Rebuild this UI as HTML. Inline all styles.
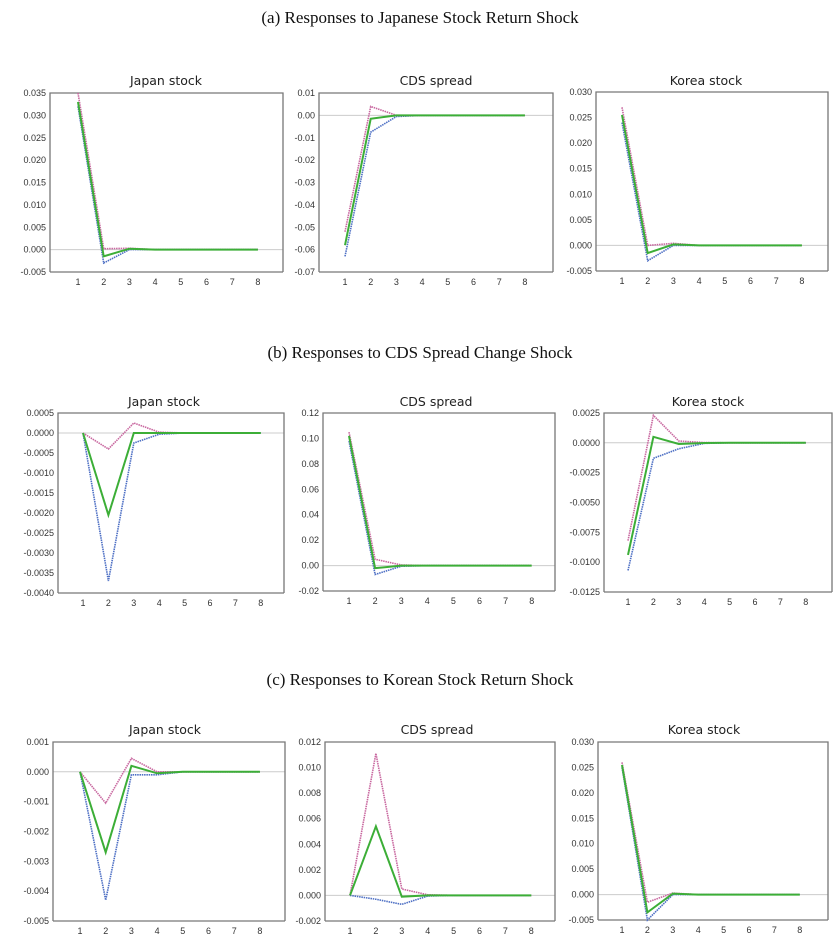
<!DOCTYPE html>
<html><head><meta charset="utf-8"><style>
html,body{margin:0;padding:0;background:#fff;}
svg{display:block;}
.h{font-family:"Liberation Serif",serif;font-size:17px;fill:#111;}
.t{font-family:"DejaVu Sans","Liberation Sans",sans-serif;font-size:12.5px;fill:#222;}
.yl{font-family:"Liberation Sans",sans-serif;font-size:9px;fill:#333;text-anchor:end;}
.xl{font-family:"Liberation Sans",sans-serif;font-size:9px;fill:#333;text-anchor:middle;}
.box{fill:none;stroke:#777;stroke-width:1.3;}
.z{stroke:#ccc;stroke-width:1;}
.p{fill:none;stroke:#c8679f;stroke-width:1.6;stroke-dasharray:1.5 0.8;vector-effect:non-scaling-stroke;}
.b{fill:none;stroke:#4d6fc4;stroke-width:1.6;stroke-dasharray:1.5 0.8;vector-effect:non-scaling-stroke;}
.g{fill:none;stroke:#3cae37;stroke-width:2;vector-effect:non-scaling-stroke;}
</style></head><body>
<svg width="838" height="944" viewBox="0 0 838 944" xmlns="http://www.w3.org/2000/svg">
<text class="h" x="420" y="23" text-anchor="middle">(a) Responses to Japanese Stock Return Shock</text>
<text class="h" x="420" y="358" text-anchor="middle">(b) Responses to CDS Spread Change Shock</text>
<text class="h" x="420" y="685" text-anchor="middle">(c) Responses to Korean Stock Return Shock</text>

<!-- a1 -->
<g transform="translate(50,93)">
<text class="t" x="116" y="-8" text-anchor="middle">Japan stock</text>
<line class="z" x1="0" x2="233" y1="156.6" y2="156.6"/>
<path class="box" d="M0,179V0H233V179M0,179H233"/>
<g class="yl"><text x="-4" y="3">0.035</text><text x="-4" y="25.4">0.030</text><text x="-4" y="47.8">0.025</text><text x="-4" y="70.1">0.020</text><text x="-4" y="92.5">0.015</text><text x="-4" y="114.9">0.010</text><text x="-4" y="137.3">0.005</text><text x="-4" y="159.6">0.000</text><text x="-4" y="182">-0.005</text></g>
<g transform="translate(28,192)" class="xl"><text x="0">1</text><text x="25.7">2</text><text x="51.4">3</text><text x="77.1">4</text><text x="102.8">5</text><text x="128.5">6</text><text x="154.2">7</text><text x="179.9">8</text></g>
<g transform="translate(28,156.6) scale(25.7,-4.475)">
<polyline class="b" points="0,32 1,-3 2,0 3,0 7,0"/><polyline class="p" points="0,35 1,0.2 2,0.3 3,0 7,0"/><polyline class="g" points="0,33 1,-1.5 2,0.2 3,0 7,0"/></g>
</g>

<!-- a2 -->
<g transform="translate(319,93)">
<text class="t" x="117" y="-8" text-anchor="middle">CDS spread</text>
<line class="z" x1="0" x2="234" y1="22.4" y2="22.4"/>
<path class="box" d="M0,179V0H234V179M0,179H234"/>
<g class="yl"><text x="-4" y="3">0.01</text><text x="-4" y="25.4">0.00</text><text x="-4" y="47.8">-0.01</text><text x="-4" y="70.1">-0.02</text><text x="-4" y="92.5">-0.03</text><text x="-4" y="114.9">-0.04</text><text x="-4" y="137.3">-0.05</text><text x="-4" y="159.6">-0.06</text><text x="-4" y="182">-0.07</text></g>
<g transform="translate(26,192)" class="xl"><text x="0">1</text><text x="25.7">2</text><text x="51.4">3</text><text x="77.1">4</text><text x="102.8">5</text><text x="128.5">6</text><text x="154.2">7</text><text x="179.9">8</text></g>
<g transform="translate(26,22.4) scale(25.7,-22.375)">
<polyline class="b" points="0,-6.3 1,-0.75 2,-0.05 3,0 7,0"/><polyline class="p" points="0,-5.2 1,0.4 2,0 3,0 7,0"/><polyline class="g" points="0,-5.8 1,-0.15 2,0 3,0 7,0"/></g>
</g>

<!-- a3 -->
<g transform="translate(596,92)">
<text class="t" x="110" y="-7" text-anchor="middle">Korea stock</text>
<line class="z" x1="0" x2="232" y1="153.4" y2="153.4"/>
<path class="box" d="M0,179V0H232V179M0,179H232"/>
<g class="yl"><text x="-4" y="3">0.030</text><text x="-4" y="28.6">0.025</text><text x="-4" y="54.1">0.020</text><text x="-4" y="79.7">0.015</text><text x="-4" y="105.3">0.010</text><text x="-4" y="130.9">0.005</text><text x="-4" y="156.4">0.000</text><text x="-4" y="182">-0.005</text></g>
<g transform="translate(26,192)" class="xl"><text x="0">1</text><text x="25.7">2</text><text x="51.4">3</text><text x="77.1">4</text><text x="102.8">5</text><text x="128.5">6</text><text x="154.2">7</text><text x="179.9">8</text></g>
<g transform="translate(26,153.4) scale(25.7,-5.114)">
<polyline class="b" points="0,24 1,-3 2,0 3,0 7,0"/><polyline class="p" points="0,27 1,0 2,0.4 3,0 7,0"/><polyline class="g" points="0,25.5 1,-1.5 2,0.2 3,0 7,0"/></g>
</g>

<!-- b1 -->
<g transform="translate(58,413)">
<text class="t" x="106" y="-7" text-anchor="middle">Japan stock</text>
<line class="z" x1="0" x2="226" y1="20" y2="20"/>
<path class="box" d="M0,180V0H226V180M0,180H226"/>
<g class="yl"><text x="-4" y="3">0.0005</text><text x="-4" y="23">0.0000</text><text x="-4" y="43">-0.0005</text><text x="-4" y="63">-0.0010</text><text x="-4" y="83">-0.0015</text><text x="-4" y="103">-0.0020</text><text x="-4" y="123">-0.0025</text><text x="-4" y="143">-0.0030</text><text x="-4" y="163">-0.0035</text><text x="-4" y="183">-0.0040</text></g>
<g transform="translate(25,193)" class="xl"><text x="0">1</text><text x="25.4">2</text><text x="50.8">3</text><text x="76.2">4</text><text x="101.6">5</text><text x="127">6</text><text x="152.4">7</text><text x="177.8">8</text></g>
<g transform="translate(25,20) scale(25.4,-4)">
<polyline class="b" points="0,0 1,-37 2,-2.5 3,-0.3 4,0 7,0"/><polyline class="p" points="0,0 1,-4 2,2.5 3,0.2 4,0 7,0"/><polyline class="g" points="0,0 1,-20.5 2,0 3,0 7,0"/></g>
</g>

<!-- b2 -->
<g transform="translate(323,413)">
<text class="t" x="113" y="-7" text-anchor="middle">CDS spread</text>
<line class="z" x1="0" x2="232" y1="152.6" y2="152.6"/>
<path class="box" d="M0,178V0H232V178M0,178H232"/>
<g class="yl"><text x="-4" y="3">0.12</text><text x="-4" y="28.4">0.10</text><text x="-4" y="53.9">0.08</text><text x="-4" y="79.3">0.06</text><text x="-4" y="104.7">0.04</text><text x="-4" y="130.1">0.02</text><text x="-4" y="155.6">0.00</text><text x="-4" y="181">-0.02</text></g>
<g transform="translate(26,191)" class="xl"><text x="0">1</text><text x="26.1">2</text><text x="52.2">3</text><text x="78.3">4</text><text x="104.4">5</text><text x="130.5">6</text><text x="156.6">7</text><text x="182.7">8</text></g>
<g transform="translate(26,152.6) scale(26.1,-12.71)">
<polyline class="b" points="0,9.8 1,-0.7 2,-0.05 3,0 7,0"/><polyline class="p" points="0,10.5 1,0.5 2,0.05 3,0 7,0"/><polyline class="g" points="0,10.2 1,-0.2 2,0 3,0 7,0"/></g>
</g>

<!-- b3 -->
<g transform="translate(604,413)">
<text class="t" x="104" y="-7" text-anchor="middle">Korea stock</text>
<line class="z" x1="0" x2="228" y1="29.8" y2="29.8"/>
<path class="box" d="M0,179V0H228V179M0,179H228"/>
<g class="yl"><text x="-4" y="3">0.0025</text><text x="-4" y="32.8">0.0000</text><text x="-4" y="62.7">-0.0025</text><text x="-4" y="92.5">-0.0050</text><text x="-4" y="122.3">-0.0075</text><text x="-4" y="152.2">-0.0100</text><text x="-4" y="182">-0.0125</text></g>
<g transform="translate(24,192)" class="xl"><text x="0">1</text><text x="25.4">2</text><text x="50.8">3</text><text x="76.2">4</text><text x="101.6">5</text><text x="127">6</text><text x="152.4">7</text><text x="177.8">8</text></g>
<g transform="translate(24,29.8) scale(25.4,-1.193)">
<polyline class="b" points="0,-107 1,-13 2,-5 3,-0.5 4,0 7,0"/><polyline class="p" points="0,-82 1,23 2,1.5 3,0.2 4,0 7,0"/><polyline class="g" points="0,-94 1,5 2,-1 3,-0.2 4,0 7,0"/></g>
</g>

<!-- c1 -->
<g transform="translate(53,742)">
<text class="t" x="112" y="-8" text-anchor="middle">Japan stock</text>
<line class="z" x1="0" x2="232" y1="29.8" y2="29.8"/>
<path class="box" d="M0,179V0H232V179M0,179H232"/>
<g class="yl"><text x="-4" y="3">0.001</text><text x="-4" y="32.8">0.000</text><text x="-4" y="62.7">-0.001</text><text x="-4" y="92.5">-0.002</text><text x="-4" y="122.3">-0.003</text><text x="-4" y="152.2">-0.004</text><text x="-4" y="182">-0.005</text></g>
<g transform="translate(27,192)" class="xl"><text x="0">1</text><text x="25.7">2</text><text x="51.4">3</text><text x="77.1">4</text><text x="102.8">5</text><text x="128.5">6</text><text x="154.2">7</text><text x="179.9">8</text></g>
<g transform="translate(27,29.8) scale(25.7,-29.83)">
<polyline class="b" points="0,0 1,-4.3 2,-0.1 3,-0.1 4,0 7,0"/><polyline class="p" points="0,0 1,-1.05 2,0.45 3,0 7,0"/><polyline class="g" points="0,0 1,-2.7 2,0.2 3,-0.05 4,0 7,0"/></g>
</g>

<!-- c2 -->
<g transform="translate(325,742)">
<text class="t" x="112" y="-8" text-anchor="middle">CDS spread</text>
<line class="z" x1="0" x2="230" y1="153.4" y2="153.4"/>
<path class="box" d="M0,179V0H230V179M0,179H230"/>
<g class="yl"><text x="-4" y="3">0.012</text><text x="-4" y="28.6">0.010</text><text x="-4" y="54.1">0.008</text><text x="-4" y="79.7">0.006</text><text x="-4" y="105.3">0.004</text><text x="-4" y="130.9">0.002</text><text x="-4" y="156.4">0.000</text><text x="-4" y="182">-0.002</text></g>
<g transform="translate(25,192)" class="xl"><text x="0">1</text><text x="25.9">2</text><text x="51.8">3</text><text x="77.7">4</text><text x="103.6">5</text><text x="129.5">6</text><text x="155.4">7</text><text x="181.3">8</text></g>
<g transform="translate(25,153.4) scale(25.9,-12.79)">
<polyline class="b" points="0,0 1,-0.3 2,-0.7 3,-0.05 4,0 7,0"/><polyline class="p" points="0,0 1,11.1 2,0.5 3,0.05 4,0 7,0"/><polyline class="g" points="0,0 1,5.4 2,-0.1 3,0 7,0"/></g>
</g>

<!-- c3 -->
<g transform="translate(598,742)">
<text class="t" x="106" y="-8" text-anchor="middle">Korea stock</text>
<line class="z" x1="0" x2="230" y1="152.6" y2="152.6"/>
<path class="box" d="M0,178V0H230V178M0,178H230"/>
<g class="yl"><text x="-4" y="3">0.030</text><text x="-4" y="28.4">0.025</text><text x="-4" y="53.9">0.020</text><text x="-4" y="79.3">0.015</text><text x="-4" y="104.7">0.010</text><text x="-4" y="130.1">0.005</text><text x="-4" y="155.6">0.000</text><text x="-4" y="181">-0.005</text></g>
<g transform="translate(24,191)" class="xl"><text x="0">1</text><text x="25.4">2</text><text x="50.8">3</text><text x="76.2">4</text><text x="101.6">5</text><text x="127">6</text><text x="152.4">7</text><text x="177.8">8</text></g>
<g transform="translate(24,152.6) scale(25.4,-5.086)">
<polyline class="b" points="0,25 1,-5 2,0 3,0 7,0"/><polyline class="p" points="0,26 1,-1.5 2,0.3 3,0 7,0"/><polyline class="g" points="0,25.5 1,-3.5 2,0.2 3,0 7,0"/></g>
</g>
</svg>
</body></html>
